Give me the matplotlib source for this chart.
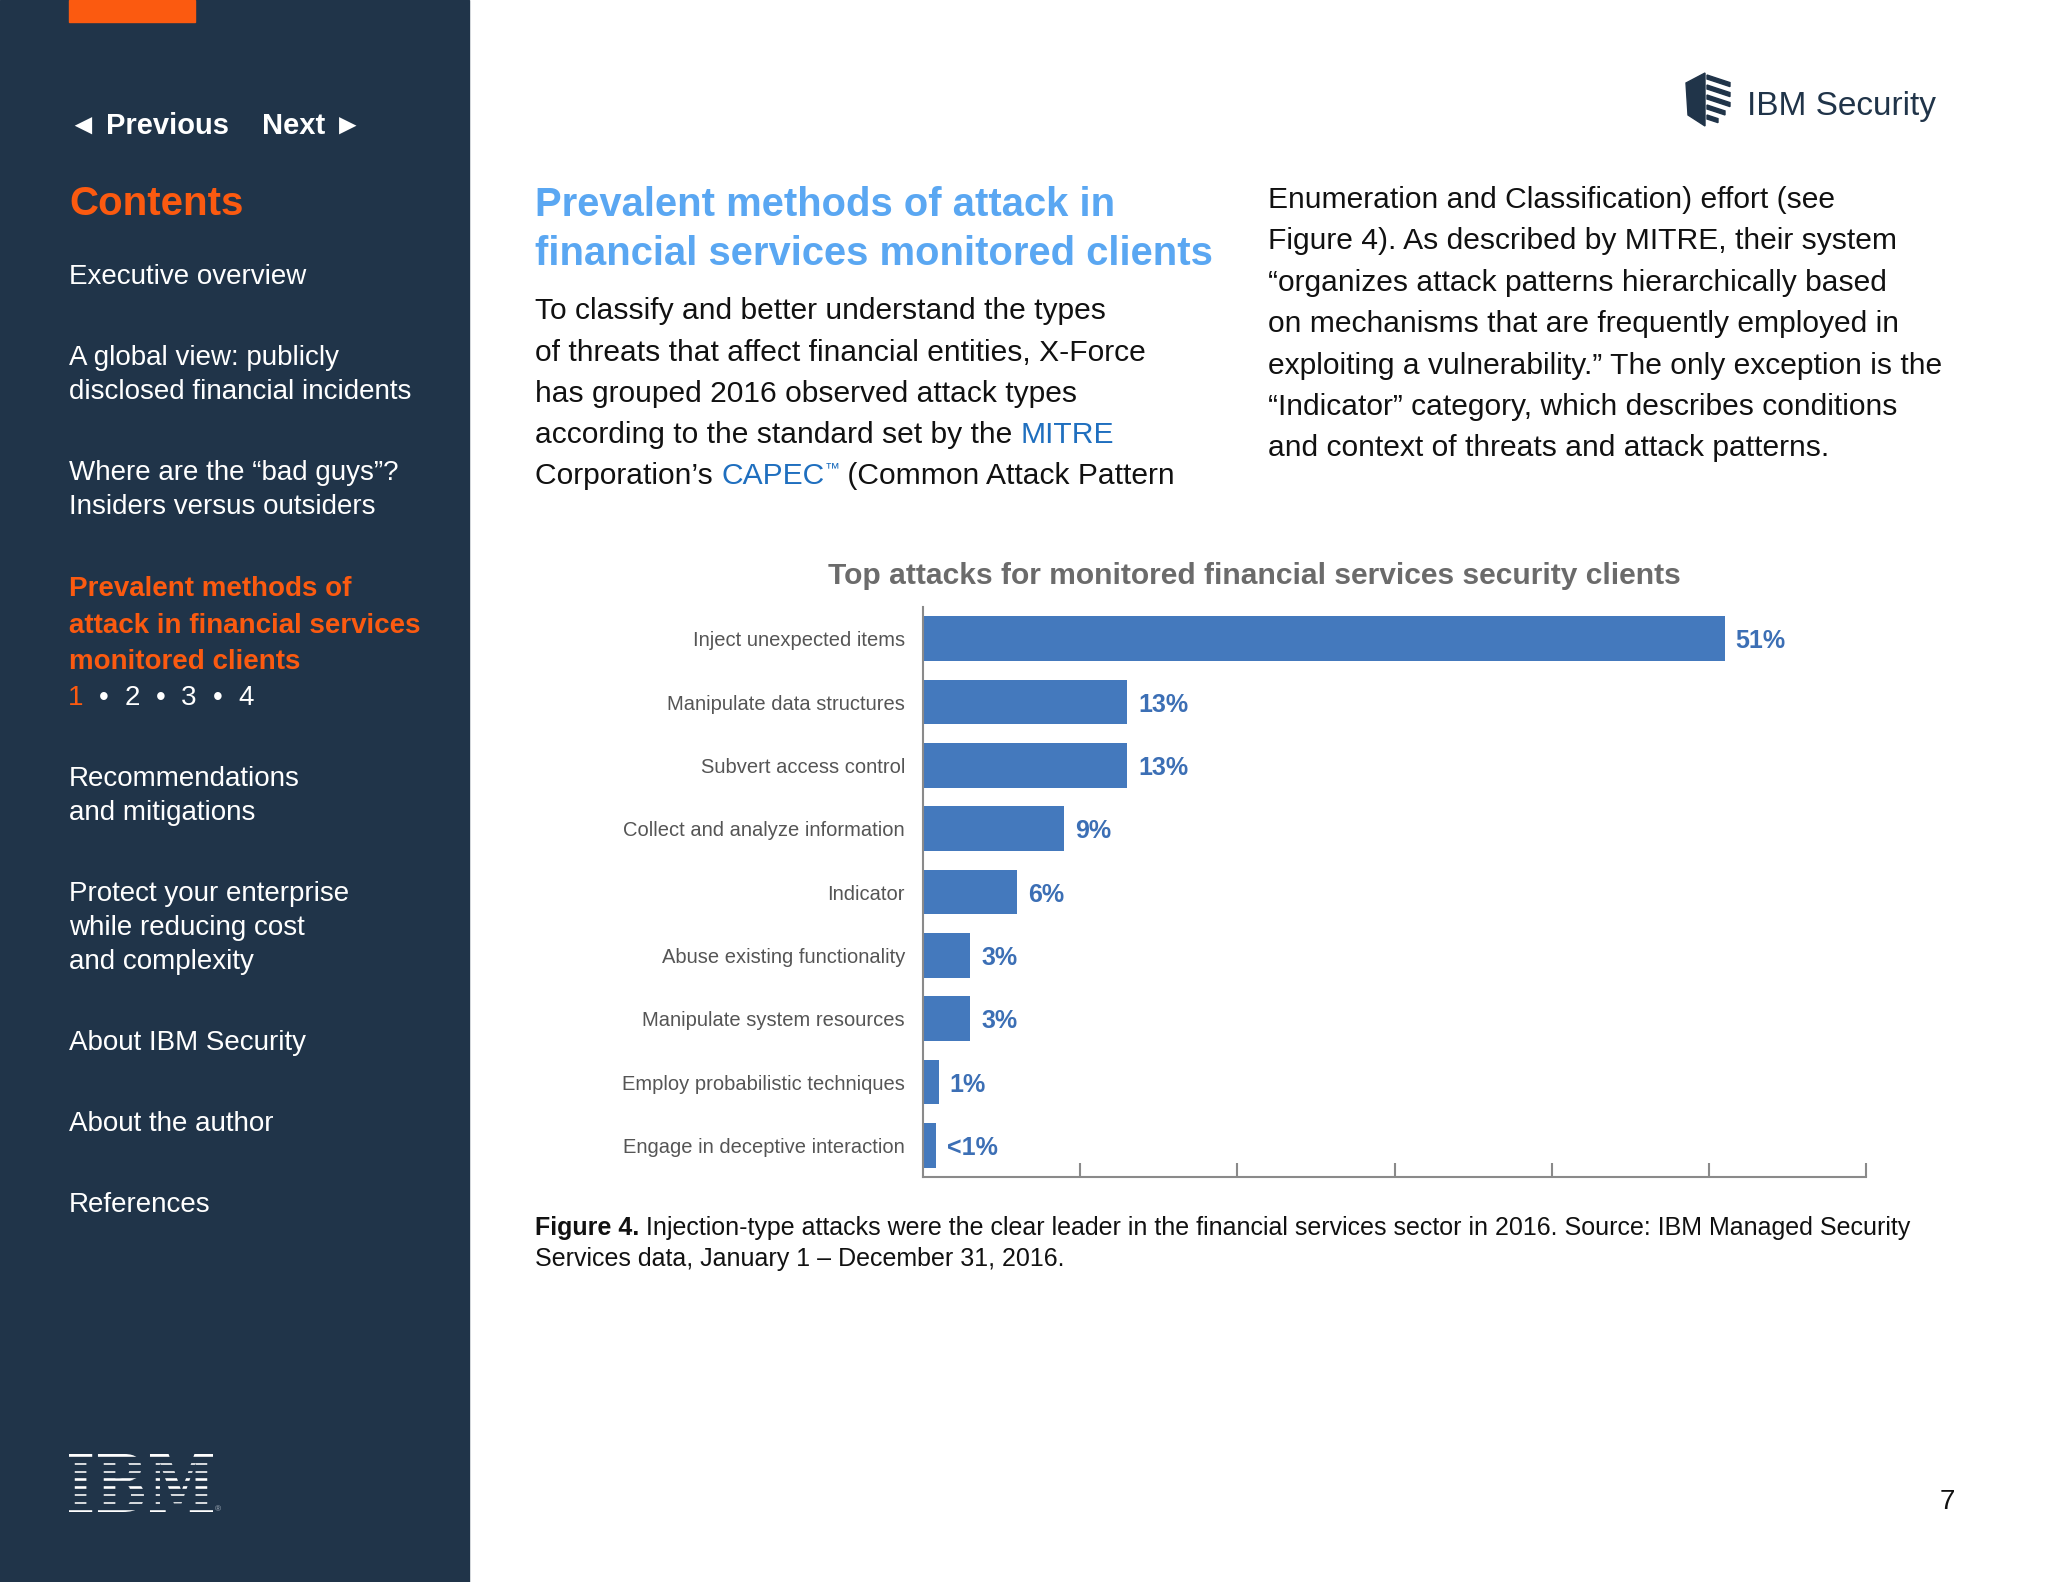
import matplotlib
matplotlib.use("Agg")
import matplotlib.pyplot as plt
from matplotlib.patches import Rectangle, Polygon, PathPatch
from matplotlib.textpath import TextPath
from matplotlib.font_manager import FontProperties
from matplotlib.path import Path

# chart data
categories = [
    "Inject unexpected items",
    "Manipulate data structures",
    "Subvert access control",
    "Collect and analyze information",
    "Indicator",
    "Abuse existing functionality",
    "Manipulate system resources",
    "Employ probabilistic techniques",
    "Engage in deceptive interaction",
]
values = [51, 13, 13, 9, 6, 3, 3, 1, 0.8]
value_labels = ["51%", "13%", "13%", "9%", "6%", "3%", "3%", "1%", "<1%"]
x_ticks = [10, 20, 30, 40, 50, 60]

chart_title = "Top attacks for monitored financial services security clients"

# page text
sidebar_items = [
    ["Executive overview"],
    ["A global view: publicly", "disclosed financial incidents"],
    ["Where are the \u201cbad guys\u201d?", "Insiders versus outsiders"],
    ["Recommendations", "and mitigations"],
    ["Protect your enterprise", "while reducing cost", "and complexity"],
    ["About IBM Security"],
    ["About the author"],
    ["References"],
]
current_item = ["Prevalent methods of", "attack in financial services", "monitored clients"]
page_marks = ["1", "\u2022", "2", "\u2022", "3", "\u2022", "4"]
heading = ["Prevalent methods of attack in", "financial services monitored clients"]
right_col = [
    "Enumeration and Classification) effort (see",
    "Figure 4). As described by MITRE, their system",
    "\u201corganizes attack patterns hierarchically based",
    "on mechanisms that are frequently employed in",
    "exploiting a vulnerability.\u201d The only exception is the",
    "\u201cIndicator\u201d category, which describes conditions",
    "and context of threats and attack patterns.",
]

NAVY = "#203449"
ORANGE = "#fb5a10"
BAR = "#4479bd"
LABEL_BLUE = "#3c6fb5"
HEAD_BLUE = "#5aa7f2"
LINK_BLUE = "#1f6fbf"

plt.rcParams["font.family"] = ["Liberation Sans", "DejaVu Sans"]

W, H = 2048, 1582
fig = plt.figure(figsize=(W / 100, H / 100), dpi=100)
fig.patch.set_facecolor("white")
renderer = fig.canvas.get_renderer()


def fxy(x, y):
    return x / W, 1 - y / H


def put(x, y, s, size, color, weight="normal", ha="left", va="center"):
    # small downward nudge: bbox centre sits above the visual centre
    return fig.text(x / W, 1 - (y + 3) / H, s, fontsize=size, color=color,
                    fontweight=weight, ha=ha, va=va)


def text_width(s, size, weight="normal"):
    t = fig.text(0, 0, s + "|", fontsize=size, fontweight=weight)
    w1 = t.get_window_extent(renderer).width
    t.set_text("|")
    w2 = t.get_window_extent(renderer).width
    t.remove()
    return w1 - w2


def put_runs(x, y, runs, size):
    # runs: (text, color, weight, scale, dy)
    for s, color, weight, scale, dy in runs:
        put(x, y + dy, s, size * scale, color, weight)
        x += text_width(s, size * scale, weight)


# sidebar
fig.patches.append(Rectangle(fxy(0, H), 469 / W, 1, transform=fig.transFigure,
                             color=NAVY, zorder=0))
fig.patches.append(Rectangle(fxy(69, 22), 126 / W, 22 / H, transform=fig.transFigure,
                             color=ORANGE, zorder=1))

put(69, 123, "\u25c4 Previous", 21, "white", "bold")
put(262, 123, "Next \u25ba", 21, "white", "bold")
put(69, 201, "Contents", 29, ORANGE, "bold")

item_y = [274, 355, 470, 776, 891, 1040, 1121, 1202]
for lines, y0 in zip(sidebar_items, item_y):
    for i, line in enumerate(lines):
        put(69, y0 + i * 34, line, 20, "white")

for i, line in enumerate(current_item):
    put(69, 586 + i * 36.6, line, 20, ORANGE, "bold")
for k, mark in enumerate(page_marks):
    put(75.5 + k * 28.4, 695, mark, 20, ORANGE if k == 0 else "white", ha="center")

# IBM logo: letters squeezed into the box, then cut with stripes
tp = TextPath((0, 0), "IBM", size=1, prop=FontProperties(family="DejaVu Serif", weight="bold"))
ext = tp.get_extents()
x0, x1, ytop, ybot = 69, 213, 1454, 1512
verts = tp.vertices.copy()
verts[:, 0] = (x0 + (verts[:, 0] - ext.x0) / ext.width * (x1 - x0)) / W
verts[:, 1] = 1 - (ybot - (verts[:, 1] - ext.y0) / ext.height * (ybot - ytop)) / H
fig.patches.append(PathPatch(Path(verts, tp.codes), transform=fig.transFigure,
                             facecolor="white", edgecolor="none", zorder=2))
period = (ybot - ytop + 4.3) / 8
for k in range(1, 8):
    yy = ytop + k * period - 4.3
    fig.patches.append(Rectangle(fxy(x0 - 3, yy + 4.3), (x1 - x0 + 6) / W, 4.3 / H,
                                 transform=fig.transFigure, color=NAVY, zorder=3))
fig.text(215 / W, 1 - 1511 / H, "\u00ae", fontsize=6, color="#aab4c0", va="baseline")

# IBM Security logo
shield = [(1686, 83), (1705, 73), (1705, 126), (1688, 115)]
fig.patches.append(Polygon([fxy(*p) for p in shield], closed=True,
                           transform=fig.transFigure, color=NAVY, zorder=2))
for k in range(5):
    top = 75 + k * 10
    length = 23 if k < 3 else (18 if k == 3 else 11)
    stripe = [(1707, top), (1707 + length, top + length * 0.33),
              (1707 + length, top + length * 0.33 + 4), (1707, top + 4)]
    fig.patches.append(Polygon([fxy(*p) for p in stripe], closed=True,
                               transform=fig.transFigure, color=NAVY, zorder=2))
put(1747, 104, "IBM Security", 24, NAVY)

# heading and body text
for i, line in enumerate(heading):
    put(535, 202 + i * 49, line, 28.8, HEAD_BLUE, "bold")

body_size = 21.6
body_y = [308, 350, 390.5, 432, 473]
put(535, body_y[0], "To classify and better understand the types", body_size, "#111111")
put(535, body_y[1], "of threats that affect financial entities, X-Force", body_size, "#111111")
put(535, body_y[2], "has grouped 2016 observed attack types", body_size, "#111111")
put_runs(535, body_y[3], [("according to the standard set by the ", "#111111", "normal", 1, 0),
                          ("MITRE", LINK_BLUE, "normal", 1, 0)], body_size)
put_runs(535, body_y[4], [("Corporation\u2019s ", "#111111", "normal", 1, 0),
                          ("CAPEC", LINK_BLUE, "normal", 1, 0),
                          ("\u2122", LINK_BLUE, "normal", 0.5, -8),
                          (" (Common Attack Pattern", "#111111", "normal", 1, 0)], body_size)

for i, line in enumerate(right_col):
    put(1268, 197 + i * 41.4, line, body_size, "#111111")

# chart
put(1254, 573, chart_title, 21.6, "#6b6b6b", "bold", ha="center")

ax = fig.add_axes([923 / W, 1 - 1177 / H, (1866 - 923) / W, 570 / H])
ypos = list(range(len(categories)))
ax.barh(ypos, values, height=0.71, color=BAR)
for y, v, lab in zip(ypos, values, value_labels):
    ax.annotate(lab, (v, y), xytext=(8, -2), textcoords="offset points",
                va="center", ha="left", fontsize=18, fontweight="bold", color=LABEL_BLUE)
ax.set_xlim(0, 60)
ax.set_ylim(len(categories) - 0.5, -0.5)
ax.set_yticks(ypos)
ax.set_yticklabels(categories, fontsize=14.5, color="#555555")
ax.set_xticks(x_ticks)
ax.set_xticklabels([])
ax.tick_params(axis="y", length=0, pad=13)
ax.tick_params(axis="x", direction="in", length=10, width=1.5, color="#8a8a8a")
for side in ["top", "right"]:
    ax.spines[side].set_visible(False)
for side in ["left", "bottom"]:
    ax.spines[side].set_color("#8a8a8a")
    ax.spines[side].set_linewidth(1.5)

# caption
put_runs(535, 1225, [("Figure 4.", "#111111", "bold", 1, 0),
                     (" Injection-type attacks were the clear leader in the financial services "
                      "sector in 2016. Source: IBM Managed Security", "#111111", "normal", 1, 0)], 18)
put(535, 1256, "Services data, January 1 \u2013 December 31, 2016.", 18, "#111111")

put(1947, 1499, "7", 20, "#111111", ha="center")

fig.savefig("out.png", dpi=100, facecolor=fig.get_facecolor())
